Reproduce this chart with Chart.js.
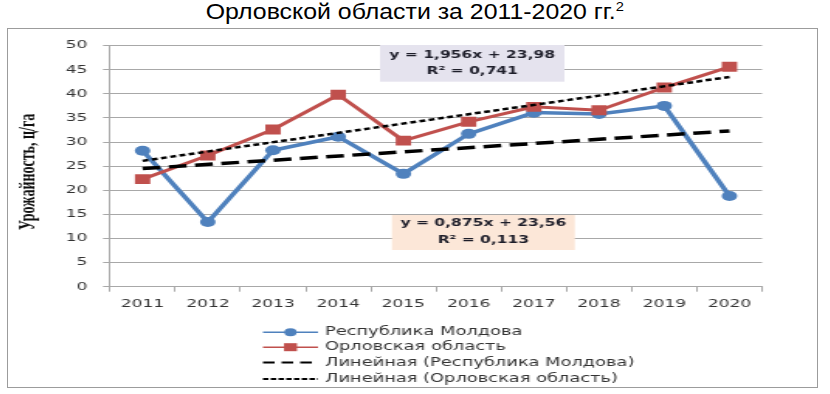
<!DOCTYPE html>
<html>
<head>
<meta charset="utf-8">
<script src="https://cdn.jsdelivr.net/npm/chart.js@4"></script>
<style>
  body { margin: 0; background: #fff; width: 830px; height: 394px; overflow: hidden; position: relative; }
  #title { position: absolute; left: 0; top: -1px; width: 830px; text-align: center;
           font: 22px "Liberation Sans", Arial, sans-serif; line-height: 26px; color: #000;
           transform: scaleX(1.13); transform-origin: 416px 0; }
  #title sup { font-size: 13px; line-height: 0; }
  #frame { position: absolute; left: 7px; top: 28px; width: 811px; height: 360px;
           border: 1.5px solid #9c9c9c; box-sizing: border-box; }
  /* the source picture is stretched sideways, so the whole chart is too */
  #wrap { position: absolute; left: 8px; top: 29px; width: 521px; height: 357px;
          transform: scaleX(1.55); transform-origin: 0 0; }
</style>
</head>
<body>
<div id="title">Орловской области за 2011-2020 гг.<sup>2</sup></div>
<div id="frame"></div>
<div id="wrap"><canvas id="chart" width="521" height="357"></canvas></div>
<script>
const YEARS = ['2011', '2012', '2013', '2014', '2015', '2016', '2017', '2018', '2019', '2020'];

const MOLDOVA = [28.2, 13.4, 28.3, 31.1, 23.4, 31.7, 36.1, 35.8, 37.5, 18.8];
const OREL = [22.3, 27.2, 32.6, 39.8, 30.3, 34.2, 37.3, 36.6, 41.3, 45.6];

// trend lines at their two ends
const MOLDOVA_TREND = [24.5, null, null, null, null, null, null, null, null, 32.3];
const OREL_TREND = [26.1, null, null, null, null, null, null, null, null, 43.5];

const Y_TITLE = 'Урожайность, ц/га';
const EQUATIONS = [
  { lines: ['y = 1,956x + 23,98', 'R² = 0,741'], bg: '#e5e3ee' },
  { lines: ['y = 0,875x + 23,56', 'R² = 0,113'], bg: '#fce7d8' },
];

const BLUE = '#4f81bd';
const RED = '#c0504d';
const GRID = '#a8a8a8';
const TEXT = '#333333';

// y title, legend and equation boxes are drawn by hand
const extrasPlugin = {
  id: 'extras',
  afterDraw(chart) {
    const { ctx } = chart;
    ctx.save();

    // y axis title
    ctx.translate(13.5, 143);
    ctx.rotate(-Math.PI / 2);
    ctx.font = 'bold 14px "Liberation Serif", "Times New Roman", serif';
    ctx.fillStyle = '#111';
    ctx.textAlign = 'center';
    ctx.textBaseline = 'middle';
    ctx.fillText(Y_TITLE, 0, 0);
    ctx.setTransform(1, 0, 0, 1, 0, 0);

    // equation boxes
    const boxes = [
      { x: 240, y: 16, w: 119, h: 36.7, l1: 26, l2: 42.5 },
      { x: 247.7, y: 186, w: 118, h: 35, l1: 194.3, l2: 211.5 },
    ];
    boxes.forEach((b, i) => {
      ctx.fillStyle = EQUATIONS[i].bg;
      ctx.fillRect(b.x, b.y, b.w, b.h);
      ctx.fillStyle = '#1e1e2a';
      ctx.font = 'bold 10px "DejaVu Sans", Verdana, sans-serif';
      ctx.textAlign = 'center';
      ctx.textBaseline = 'middle';
      ctx.fillText(EQUATIONS[i].lines[0], b.x + b.w / 2, b.l1);
      ctx.fillText(EQUATIONS[i].lines[1], b.x + b.w / 2, b.l2);
    });

    // legend, one entry per row
    const rows = [303.2, 318.2, 333.6, 350];
    const x0 = 164.5, x1 = 200;
    chart.data.datasets.forEach((ds, i) => {
      const y = rows[i];
      ctx.beginPath();
      ctx.strokeStyle = ds.borderColor;
      ctx.lineWidth = ds.borderDash ? 2 : 1.5;
      ctx.setLineDash(ds.borderDash ? ds.legendDash : []);
      ctx.moveTo(x0, y);
      ctx.lineTo(x1, y);
      ctx.stroke();
      ctx.setLineDash([]);
      if (ds.pointRadius) {
        ctx.fillStyle = ds.borderColor;
        const cx = (x0 + x1) / 2;
        if (ds.pointStyle === 'rect') {
          ctx.fillRect(cx - 4.2, y - 4, 8.4, 8);
        } else {
          ctx.beginPath();
          ctx.arc(cx, y, 4, 0, Math.PI * 2);
          ctx.fill();
        }
      }
      ctx.fillStyle = TEXT;
      ctx.font = '11.5px "DejaVu Sans", Verdana, sans-serif';
      ctx.textAlign = 'left';
      ctx.textBaseline = 'middle';
      ctx.fillText(ds.label, 204.5, y);
    });
    ctx.restore();
  },
};

new Chart(document.getElementById('chart'), {
  type: 'line',
  data: {
    labels: YEARS,
    datasets: [
      {
        label: 'Республика Молдова',
        data: MOLDOVA,
        borderColor: BLUE,
        backgroundColor: BLUE,
        borderWidth: 3.5,
        pointStyle: 'circle',
        pointRadius: 5,
        pointBorderWidth: 0,
        tension: 0,
        order: 2,
      },
      {
        label: 'Орловская область',
        data: OREL,
        borderColor: RED,
        backgroundColor: RED,
        borderWidth: 3,
        pointStyle: 'rect',
        pointRadius: 7,
        pointBorderWidth: 0,
        tension: 0,
        order: 1,
      },
      {
        label: 'Линейная (Республика Молдова)',
        data: MOLDOVA_TREND,
        borderColor: '#000',
        borderWidth: 3.5,
        borderDash: [11.5, 5.5],
        legendDash: [7.5, 4.5],
        pointRadius: 0,
        spanGaps: true,
        order: 0,
      },
      {
        label: 'Линейная (Орловская область)',
        data: OREL_TREND,
        borderColor: '#000',
        borderWidth: 2.5,
        borderDash: [3.8, 2.3],
        legendDash: [3.5, 1.5],
        pointRadius: 0,
        spanGaps: true,
        order: 0,
      },
    ],
  },
  plugins: [extrasPlugin],
  options: {
    responsive: false,
    animation: false,
    events: [],
    layout: { padding: { left: 0, top: 15.7, right: 34.5, bottom: 69.3 } },
    scales: {
      x: {
        offset: true,
        grid: { offset: true, drawOnChartArea: false, color: GRID, tickLength: 5 },
        border: { color: GRID },
        ticks: { color: TEXT, font: { family: '"DejaVu Sans", Verdana, sans-serif', size: 11 }, padding: 6, maxRotation: 0 },
        afterFit(scale) { scale.height = 30; },
      },
      y: {
        min: 0,
        max: 50,
        ticks: { stepSize: 5, color: TEXT, font: { family: '"DejaVu Sans", Verdana, sans-serif', size: 11 }, padding: 10 },
        grid: { color: GRID, tickLength: 4.5 },
        border: { color: GRID },
        afterFit(scale) { scale.width = 65.8; },
      },
    },
    plugins: {
      legend: { display: false },
      tooltip: { enabled: false },
    },
  },
});
</script>
</body>
</html>
